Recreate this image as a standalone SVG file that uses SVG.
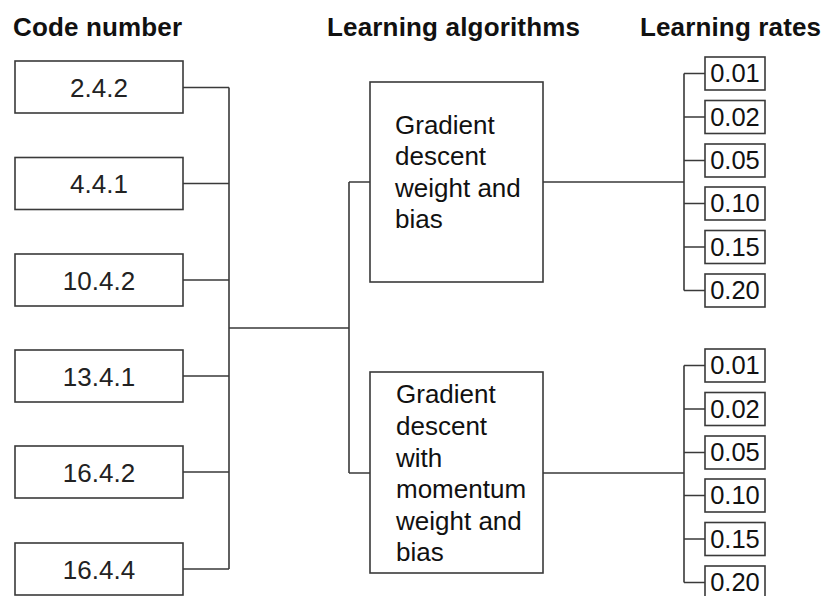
<svg xmlns="http://www.w3.org/2000/svg" width="822" height="596" viewBox="0 0 822 596">
  <style>
    .box { fill: #ffffff; stroke: #3a3a3a; stroke-width: 1.6; }
    .wire { fill: none; stroke: #3a3a3a; stroke-width: 1.6; }
    .title { font-family: "Liberation Sans", Arial, sans-serif; font-weight: bold; font-size: 26px; fill: #111; }
    .code { font-family: "Liberation Sans", Arial, sans-serif; font-size: 26px; fill: #222; text-anchor: middle; }
    .algo { font-family: "Liberation Sans", Arial, sans-serif; font-size: 26px; fill: #111; }
    .rate { font-family: "Liberation Sans", Arial, sans-serif; font-size: 25.5px; fill: #111; text-anchor: middle; }
  </style>
  <rect width="822" height="596" fill="#ffffff"/>

  <!-- column headings -->
  <text class="title" x="13" y="36" textLength="169">Code number</text>
  <text class="title" x="327" y="36" textLength="253">Learning algorithms</text>
  <text class="title" x="640" y="36" textLength="181">Learning rates</text>

  <!-- connectors -->
  <g id="connectors">
    <!-- code numbers to trunk -->
    <path class="wire" d="M183 87.5H229 M183 183.5H229 M183 280H229 M183 376H229 M183 472H229 M183 569H229 M229 87.5V569"/>
    <path class="wire" d="M229 328H349 M349 182V473 M349 182H370 M349 473H370"/>
    <!-- algorithms to learning rates -->
    <path class="wire" d="M543 182H684 M684 73.5V290.5"/>
    <path class="wire" d="M684 73.5H705 M684 117H705 M684 160.5H705 M684 203.5H705 M684 247H705 M684 290.5H705"/>
    <path class="wire" d="M543 473H684 M684 365.5V582.5"/>
    <path class="wire" d="M684 365.5H705 M684 409H705 M684 452.5H705 M684 495.5H705 M684 539H705 M684 582.5H705"/>
  </g>

  <!-- code numbers -->
  <g id="code-2-4-2"><rect class="box" x="15" y="61" width="168" height="52"/><text class="code" x="99" y="96.5">2.4.2</text></g>
  <g id="code-4-4-1"><rect class="box" x="15" y="157.5" width="168" height="52"/><text class="code" x="99" y="193">4.4.1</text></g>
  <g id="code-10-4-2"><rect class="box" x="15" y="254" width="168" height="52"/><text class="code" x="99" y="289.5">10.4.2</text></g>
  <g id="code-13-4-1"><rect class="box" x="15" y="350" width="168" height="52"/><text class="code" x="99" y="385.5">13.4.1</text></g>
  <g id="code-16-4-2"><rect class="box" x="15" y="446" width="168" height="52"/><text class="code" x="99" y="481.5">16.4.2</text></g>
  <g id="code-16-4-4"><rect class="box" x="15" y="543" width="168" height="52"/><text class="code" x="99" y="578.5">16.4.4</text></g>

  <!-- learning algorithms -->
  <g id="algo-gd">
    <rect class="box" x="370" y="82" width="173" height="200"/>
    <text class="algo" x="395" y="134">Gradient</text>
    <text class="algo" x="395" y="165">descent</text>
    <text class="algo" x="395" y="197">weight and</text>
    <text class="algo" x="395" y="228">bias</text>
  </g>
  <g id="algo-gdm">
    <rect class="box" x="370" y="372" width="173" height="201"/>
    <text class="algo" x="396" y="403">Gradient</text>
    <text class="algo" x="396" y="435">descent</text>
    <text class="algo" x="396" y="467">with</text>
    <text class="algo" x="396" y="498">momentum</text>
    <text class="algo" x="396" y="530">weight and</text>
    <text class="algo" x="396" y="561">bias</text>
  </g>

  <!-- learning rates, gradient descent -->
  <g id="rate-gd-001"><rect class="box" x="705" y="57" width="60" height="33"/><text class="rate" x="735" y="82">0.01</text></g>
  <g id="rate-gd-002"><rect class="box" x="705" y="100.5" width="60" height="33"/><text class="rate" x="735" y="125.5">0.02</text></g>
  <g id="rate-gd-005"><rect class="box" x="705" y="144" width="60" height="33"/><text class="rate" x="735" y="169">0.05</text></g>
  <g id="rate-gd-010"><rect class="box" x="705" y="187" width="60" height="33"/><text class="rate" x="735" y="212">0.10</text></g>
  <g id="rate-gd-015"><rect class="box" x="705" y="230.5" width="60" height="33"/><text class="rate" x="735" y="255.5">0.15</text></g>
  <g id="rate-gd-020"><rect class="box" x="705" y="274" width="60" height="33"/><text class="rate" x="735" y="299">0.20</text></g>

  <!-- learning rates, gradient descent with momentum -->
  <g id="rate-gdm-001"><rect class="box" x="705" y="349" width="60" height="33"/><text class="rate" x="735" y="374">0.01</text></g>
  <g id="rate-gdm-002"><rect class="box" x="705" y="392.5" width="60" height="33"/><text class="rate" x="735" y="417.5">0.02</text></g>
  <g id="rate-gdm-005"><rect class="box" x="705" y="436" width="60" height="33"/><text class="rate" x="735" y="461">0.05</text></g>
  <g id="rate-gdm-010"><rect class="box" x="705" y="479" width="60" height="33"/><text class="rate" x="735" y="504">0.10</text></g>
  <g id="rate-gdm-015"><rect class="box" x="705" y="522.5" width="60" height="33"/><text class="rate" x="735" y="547.5">0.15</text></g>
  <g id="rate-gdm-020"><rect class="box" x="705" y="566" width="60" height="33"/><text class="rate" x="735" y="591">0.20</text></g>
</svg>
